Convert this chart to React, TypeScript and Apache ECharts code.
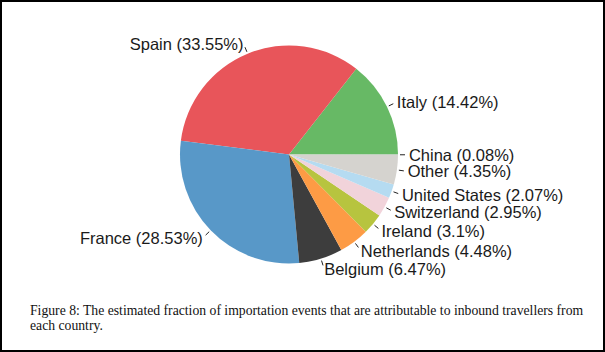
import React, { useEffect, useRef } from "react";
import * as echarts from "echarts";

const countries = ["Italy", "Spain", "France", "Belgium", "Netherlands", "Ireland", "Switzerland", "United States", "Other", "China"];
const shares = [14.42, 33.55, 28.53, 6.47, 4.48, 3.1, 2.95, 2.07, 4.35, 0.08];
const sliceColors = ["#67b965", "#e8555a", "#5898c8", "#3d3d3d", "#fd9b45", "#b7c43f", "#f1d3da", "#b5dbf1", "#d5d3cf", "#c9c9c9"];
const captionLines = [
  "Figure 8: The estimated fraction of importation events that are attributable to inbound travellers from",
  "each country.",
];

const W = 605;
const H = 352;
const CX = 289;
const CY = 154.5;
const R = 109;

export default function App() {
  const ref = useRef<HTMLDivElement>(null);
  useEffect(() => {
    if (!ref.current) return;
    const chart = echarts.init(ref.current, undefined, { renderer: "svg", width: W, height: H });
    const data = countries.map((name, i) => ({
      name,
      value: shares[i],
      itemStyle: { color: sliceColors[i] },
    }));
    chart.setOption({
      animation: false,
      backgroundColor: "#ffffff",
      series: [
        {
          type: "pie",
          center: [CX, CY],
          radius: [0, R],
          startAngle: 0,
          clockwise: false,
          avoidLabelOverlap: false,
          silent: true,
          emphasis: { disabled: true },
          itemStyle: { borderWidth: 0 },
          label: {
            show: true,
            position: "outside",
            formatter: "{b} ({c}%)",
            fontFamily: "Liberation Sans, Arial, sans-serif",
            fontSize: 16.5,
            color: "#1a1a1a",
          },
          labelLine: {
            show: true,
            length: 7,
            length2: 0,
            lineStyle: { color: "#222222", width: 1 },
          },
          labelLayout: (p: any) => {
            const pts = p.labelLinePoints;
            if (!pts || !pts.length) return {};
            const dx = pts[0][0] - CX;
            const dy = pts[0][1] - CY;
            const len = Math.hypot(dx, dy) || 1;
            const ux = dx / len;
            const uy = dy / len;
            const a = [CX + ux * (R + 2), CY + uy * (R + 2)];
            const b = [CX + ux * (R + 7), CY + uy * (R + 7)];
            return {
              x: CX + ux * R * 1.1,
              y: CY + uy * R * 1.1,
              align: ux >= 0 ? "left" : "right",
              verticalAlign: "middle",
              labelLinePoints: [a, b, b],
            };
          },
          data,
        },
      ],
      graphic: [
        {
          type: "rect",
          shape: { x: 1, y: 1, width: W - 2, height: H - 2 },
          style: { fill: "none", stroke: "#000000", lineWidth: 2 },
          silent: true,
        },
        {
          type: "text",
          x: 30,
          y: 303,
          style: {
            text: captionLines.join("\n"),
            fontFamily: "Liberation Serif, Times New Roman, serif",
            fontSize: 13.7,
            lineHeight: 14.7,
            fill: "#111111",
          },
          silent: true,
        },
      ],
    });
    return () => chart.dispose();
  }, []);
  return (
    <div
      ref={ref}
      style={{ position: "fixed", left: 0, top: 0, width: W, height: H, background: "#fff" }}
    />
  );
}
